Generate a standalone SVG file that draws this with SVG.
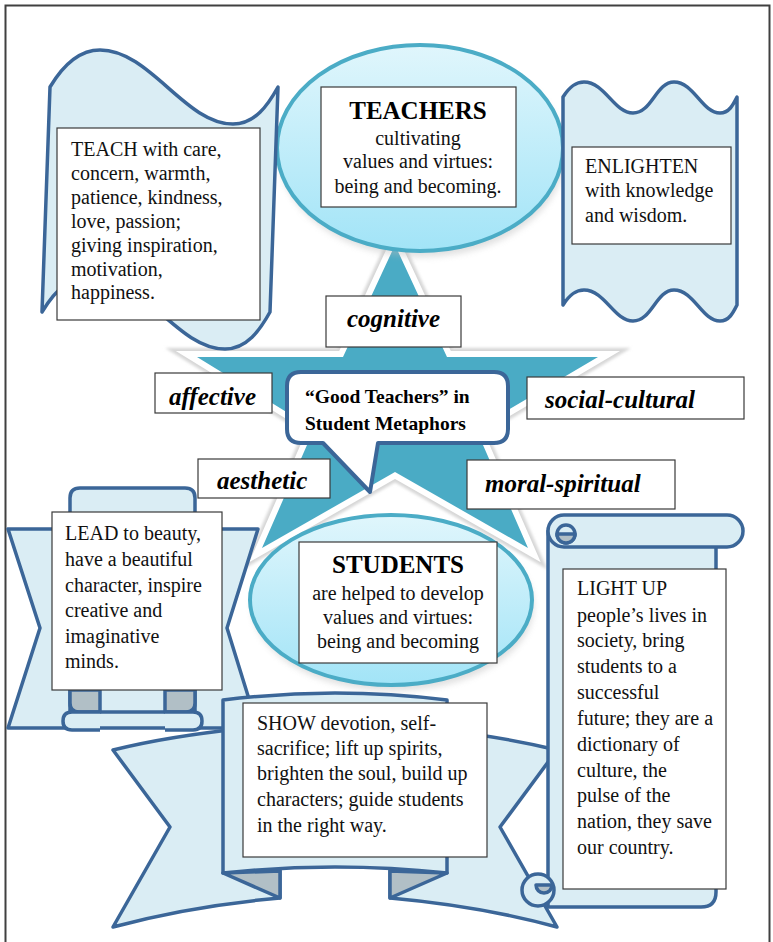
<svg xmlns="http://www.w3.org/2000/svg" width="773" height="942" viewBox="0 0 773 942">
  <defs>
    <linearGradient id="oval" x1="0" y1="0" x2="0" y2="1">
      <stop offset="0" stop-color="#e0f6fc"/>
      <stop offset="1" stop-color="#a2e4f7"/>
    </linearGradient>
    <filter id="soft" x="-10%" y="-10%" width="120%" height="130%">
      <feGaussianBlur stdDeviation="3"/>
    </filter>
    <filter id="blur1" x="-10%" y="-10%" width="120%" height="120%">
      <feGaussianBlur stdDeviation="1.5"/>
    </filter>
    <style>
      .band { fill: #daedf4; stroke: #3b6698; stroke-width: 3.5; stroke-linejoin: round; }
      .fold { fill: #b1bfc6; stroke: #3b6698; stroke-width: 3.5; stroke-linejoin: round; }
      .oval { fill: url(#oval); stroke: #4bacc6; stroke-width: 4; }
      .box { fill: #ffffff; stroke: #3a3a3a; stroke-width: 1.2; }
      .txt { font-family: "Liberation Serif", "Times New Roman", serif; font-size: 20px; fill: #111; }
      .head { font-family: "Liberation Serif", "Times New Roman", serif; font-size: 25px; font-weight: bold; fill: #000; }
      .tag { font-family: "Liberation Serif", "Times New Roman", serif; font-size: 25px; font-weight: bold; font-style: italic; fill: #000; }
      .title { font-family: "Liberation Serif", "Times New Roman", serif; font-size: 19.5px; font-weight: bold; fill: #000; }
    </style>
  </defs>

  <rect width="773" height="942" fill="#ffffff"/>
  <!-- page frame -->
  <rect x="5.5" y="5.5" width="764" height="960" fill="none" stroke="#404040" stroke-width="2"/>

  <!-- central star -->
  <g id="star">
    <polygon points="395,245 447,357 598,357 476,429 528,548 395,472 262,548 314,429 197,357 343,357" fill="none" stroke="#d6d6d6" stroke-width="18" stroke-linejoin="miter" filter="url(#blur1)"/>
    <polygon points="395,245 447,357 598,357 476,429 528,548 395,472 262,548 314,429 197,357 343,357" fill="#4aabc5" stroke="#ffffff" stroke-width="12" stroke-linejoin="miter" paint-order="stroke"/>
  </g>

  <!-- TEACHERS oval -->
  <g id="teachers">
    <ellipse cx="422" cy="154" rx="143" ry="103" fill="#bbbbbb" opacity="0.45" filter="url(#soft)"/>
    <ellipse class="oval" cx="420" cy="148" rx="143" ry="103"/>
    <rect class="box" x="321" y="87" width="195" height="120"/>
    <text class="head" x="418" y="119" text-anchor="middle">TEACHERS</text>
    <text class="txt" x="418" y="145" text-anchor="middle">cultivating</text>
    <text class="txt" x="418" y="168" text-anchor="middle">values and virtues:</text>
    <text class="txt" x="418" y="193" text-anchor="middle">being and becoming.</text>
  </g>

  <!-- TEACH wave banner -->
  <g id="teach">
    <path class="band" d="M50,87 C65,62 82,50 100,50 C150,50 185,124 233,124 C255,124 268,105 278,87 L270,312 C260,330 247,349 225,349 C177,349 142,275 92,275 C74,275 57,287 42,312 Z"/>
    <rect class="box" x="57" y="128" width="203" height="192"/>
    <text class="txt" x="71" y="156">TEACH with care,</text>
    <text class="txt" x="71" y="180">concern, warmth,</text>
    <text class="txt" x="71" y="204">patience, kindness,</text>
    <text class="txt" x="71" y="228">love, passion;</text>
    <text class="txt" x="71" y="252">giving inspiration,</text>
    <text class="txt" x="71" y="276">motivation,</text>
    <text class="txt" x="71" y="299">happiness.</text>
  </g>

  <!-- ENLIGHTEN double-wave banner -->
  <g id="enlighten">
    <path class="band" d="M563,97 C570,86 576,82 584,82 C605,82 614,113 633,113 C652,113 656,82 674,82 C694,82 702,113 720,113 C729,113 733,105 737,97 L737,305 C733,313 729,321 720,321 C702,321 694,290 674,290 C656,290 652,321 633,321 C614,321 605,290 584,290 C576,290 570,294 563,305 Z"/>
    <rect class="box" x="572" y="147" width="159" height="97"/>
    <text class="txt" x="585" y="173">ENLIGHTEN</text>
    <text class="txt" x="585" y="197">with knowledge</text>
    <text class="txt" x="585" y="222">and wisdom.</text>
  </g>

  <!-- dimension labels -->
  <g id="cognitive">
    <rect class="box" x="326" y="296" width="135" height="51"/>
    <text class="tag" x="347" y="327">cognitive</text>
  </g>
  <g id="affective">
    <rect class="box" x="155" y="373" width="117" height="40"/>
    <text class="tag" x="169" y="405">affective</text>
  </g>
  <g id="social-cultural">
    <rect class="box" x="527" y="377" width="217" height="42"/>
    <text class="tag" x="545" y="408">social-cultural</text>
  </g>
  <g id="aesthetic">
    <rect class="box" x="198" y="459" width="132" height="39"/>
    <text class="tag" x="217" y="489">aesthetic</text>
  </g>
  <g id="moral-spiritual">
    <rect class="box" x="467" y="460" width="208" height="49"/>
    <text class="tag" x="485" y="492">moral-spiritual</text>
  </g>

  <!-- title callout -->
  <g id="title">
    <path d="M301,372 H494 Q508,372 508,386 V429 Q508,443 494,443 H378 L370,492 L323,443 H301 Q287,443 287,429 V386 Q287,372 301,372 Z" fill="#ffffff" stroke="#3b6698" stroke-width="4" stroke-linejoin="round"/>
    <text class="title" x="305" y="403">“Good Teachers” in</text>
    <text class="title" x="305" y="430">Student Metaphors</text>
  </g>

  <!-- STUDENTS oval -->
  <g id="students">
    <ellipse cx="393" cy="606" rx="141" ry="85" fill="#bbbbbb" opacity="0.45" filter="url(#soft)"/>
    <ellipse class="oval" cx="391" cy="600" rx="141" ry="85"/>
    <rect class="box" x="299" y="542" width="198" height="121"/>
    <text class="head" x="398" y="573" text-anchor="middle">STUDENTS</text>
    <text class="txt" x="398" y="600" text-anchor="middle">are helped to develop</text>
    <text class="txt" x="398" y="624" text-anchor="middle">values and virtues:</text>
    <text class="txt" x="398" y="648" text-anchor="middle">being and becoming</text>
  </g>

  <!-- LEAD up-ribbon -->
  <g id="lead">
    <path class="band" d="M8,529 L258,529 L227,628 L258,728 L8,728 L40,628 Z"/>
    <path class="band" d="M70,712 V498 Q70,488 80,488 H185 Q195,488 195,498 V712 Z"/>
    <path class="fold" d="M70,690 H100 V712 H79 Q70,712 70,703 Z"/>
    <path class="fold" d="M165,690 H195 V703 Q195,712 186,712 H165 Z"/>
    <path class="band" d="M100,712 H72 Q63,712 63,721 Q63,730 72,730 H100"/>
    <path class="band" d="M165,712 H193 Q202,712 202,721 Q202,730 193,730 H165"/>
    <rect class="box" x="52" y="512" width="170" height="178"/>
    <text class="txt" x="65" y="540">LEAD to beauty,</text>
    <text class="txt" x="65" y="566">have a beautiful</text>
    <text class="txt" x="65" y="592">character, inspire</text>
    <text class="txt" x="65" y="617">creative and</text>
    <text class="txt" x="65" y="643">imaginative</text>
    <text class="txt" x="65" y="668">minds.</text>
  </g>

  <!-- SHOW curved ribbon -->
  <g id="show">
    <path class="band" d="M113,750 Q170,736 240,729 L280,729 L280,898 Q190,906 113,927 L170,827 Z"/>
    <path class="band" d="M557,750 Q500,736 430,729 L390,729 L390,898 Q480,906 557,927 L500,827 Z"/>
    <path class="fold" d="M223,873 L280,871 L280,898 Z"/>
    <path class="fold" d="M447,873 L390,871 L390,898 Z"/>
    <path class="band" d="M223,700 Q335,686 447,700 L447,873 Q335,861 223,873 Z"/>
    <rect class="box" x="243" y="703" width="244" height="154"/>
    <text class="txt" x="257" y="730">SHOW devotion, self-</text>
    <text class="txt" x="257" y="755">sacrifice; lift up spirits,</text>
    <text class="txt" x="257" y="780">brighten the soul, build up</text>
    <text class="txt" x="257" y="806">characters; guide students</text>
    <text class="txt" x="257" y="832">in the right way.</text>
  </g>

  <!-- LIGHT UP vertical scroll -->
  <g id="light-up">
    <path class="band" d="M548,531 H716 V892 Q716,907 701,907 H548 Z"/>
    <rect class="band" x="548" y="515" width="195" height="32" rx="16"/>
    <circle class="band" cx="566" cy="534" r="9"/>
    <path class="fold" d="M557,534 A9,9 0 0 0 575,534 Z"/>
    <circle class="band" cx="538" cy="890" r="16"/>
    <path class="fold" d="M536,885 A8,8 0 0 0 552,885 Z"/>
    <rect class="box" x="563" y="569" width="163" height="320"/>
    <text class="txt" x="577" y="595">LIGHT UP</text>
    <text class="txt" x="577" y="622">people’s lives in</text>
    <text class="txt" x="577" y="647">society, bring</text>
    <text class="txt" x="577" y="673">students to a</text>
    <text class="txt" x="577" y="699">successful</text>
    <text class="txt" x="577" y="725">future; they are a</text>
    <text class="txt" x="577" y="751">dictionary of</text>
    <text class="txt" x="577" y="777">culture, the</text>
    <text class="txt" x="577" y="802">pulse of the</text>
    <text class="txt" x="577" y="828">nation, they save</text>
    <text class="txt" x="577" y="854">our country.</text>
  </g>
</svg>
